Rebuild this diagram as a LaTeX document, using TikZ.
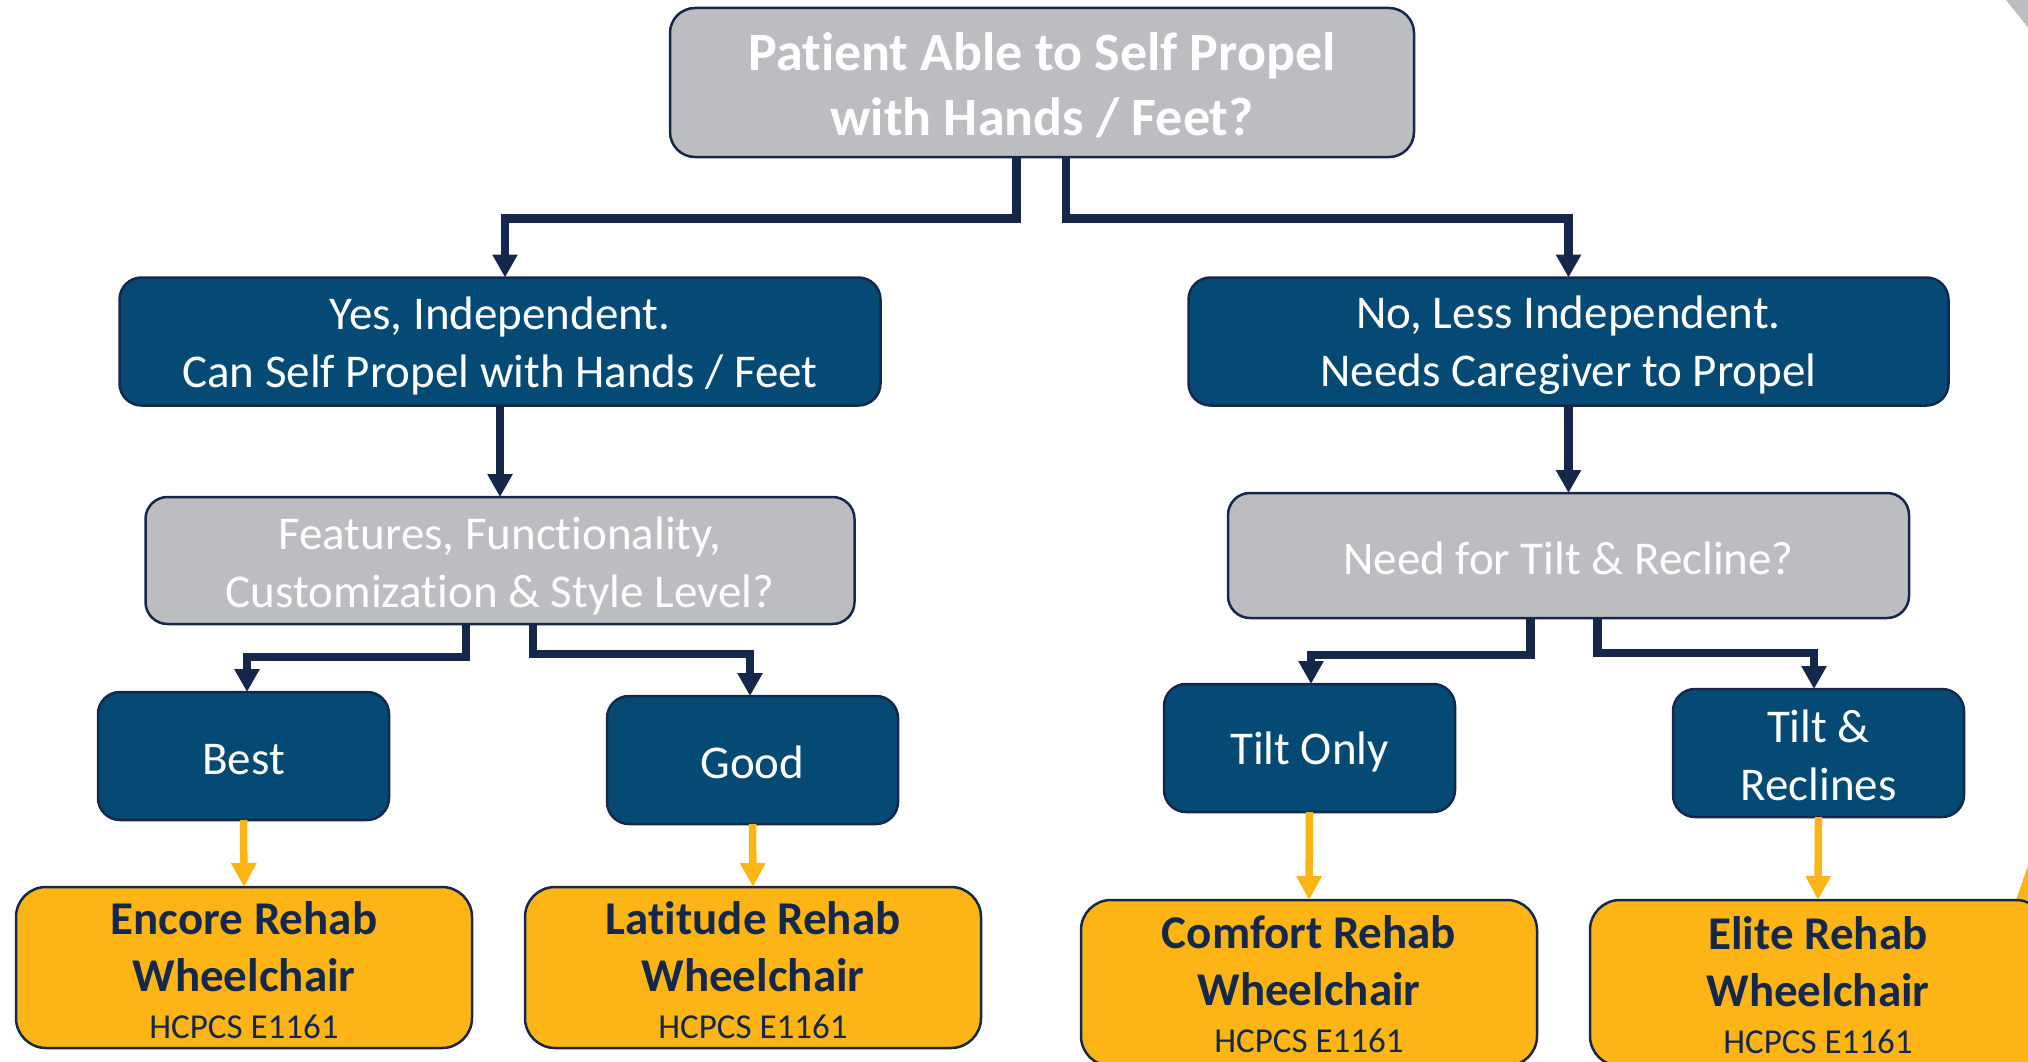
\documentclass[tikz,border=0pt]{standalone}
\usepackage{fontspec}
\setmainfont{Carlito}[Ligatures=NoCommon]
\usetikzlibrary{arrows.meta}
\definecolor{navyfill}{HTML}{044A75}
\definecolor{navyline}{HTML}{15284B}
\definecolor{greyfill}{HTML}{BCBDC0}
\definecolor{gold}{HTML}{FDB515}
\newcommand\liftto[1]{\rule{0pt}{#1}}
\begin{document}
\begin{tikzpicture}[x=1pt,y=-1pt,
  box/.style={draw=navyline, line width=2.5pt, rounded corners=22pt, align=center, inner sep=0pt, outer sep=0pt},
  greybox/.style={box, fill=greyfill, text=white},
  bluebox/.style={box, fill=navyfill, text=white, font=\fontsize{47}{58}\selectfont},
  smallblue/.style={bluebox, minimum width=291pt, minimum height=128pt},
  goldbox/.style={box, fill=gold, text=navyline, rounded corners=30pt, minimum width=456pt, font=\fontsize{47}{57}\selectfont\bfseries},
  conn/.style={draw=navyline, line width=8.5pt, line join=miter, -{Triangle[width=24pt,length=23pt]}},
  gconn/.style={draw=gold, line width=7.5pt, -{Triangle[width=24pt,length=24pt]}},
  deco/.style={fill=greyfill},
  decogold/.style={fill=gold}
]
\path[use as bounding box] (0,0) rectangle (2028,1062);
\clip (0,0) rectangle (2028,1062);

% decorative corner pieces
\fill[deco] (2006,0) -- (2030,0) -- (2030,30) -- cycle;
\fill[decogold] (2030,860) -- (2016,900) -- (2030,900) -- cycle;

% nodes
\node[greybox, minimum width=744pt, minimum height=149pt, rounded corners=25pt,
      font=\fontsize{54}{65}\selectfont\bfseries] (top) at (1042,82.5)
      {\liftto{44pt}Patient Able to Self Propel\\with Hands / Feet?};

\node[bluebox, minimum width=761pt, minimum height=128pt] (yes) at (500,341.5)
      {\liftto{41pt}Yes, Independent.\\Can Self Propel with Hands / Feet};
\node[bluebox, minimum width=760pt, minimum height=128pt] (no) at (1568.5,341.5)
      {\liftto{41pt}No, Less Independent.\\Needs Caregiver to Propel};

\node[greybox, minimum width=709pt, minimum height=127pt,
      font=\fontsize{47}{58}\selectfont] (feat) at (500,560.5)
      {\liftto{43pt}Features, Functionality,\\Customization \& Style Level?};
\node[greybox, minimum width=681pt, minimum height=125pt,
      font=\fontsize{47}{58}\selectfont] (need) at (1568.5,555.5)
      {\liftto{38pt}Need for Tilt \& Recline?};

\node[smallblue] (best) at (243.5,756) {\liftto{37pt}Best};
\node[smallblue] (good) at (752.5,760) {\liftto{37pt}Good};
\node[smallblue] (tilt) at (1309.5,748) {\liftto{40pt}Tilt Only};
\node[smallblue] (tiltrec) at (1818.5,753) {\liftto{38pt}Tilt \&\\Reclines};

\node[goldbox, minimum height=161pt] (encore) at (244,967.5)
      {\liftto{38pt}Encore Rehab\\Wheelchair\\[-10pt]{\normalfont\fontsize{35}{47}\selectfont HCPCS E1161}};
\node[goldbox, minimum height=161pt] (latitude) at (753,967.5)
      {\liftto{38pt}Latitude Rehab\\Wheelchair\\[-10pt]{\normalfont\fontsize{35}{47}\selectfont HCPCS E1161}};
\node[goldbox, minimum height=166pt] (comfort) at (1309,983)
      {\liftto{36pt}Comfort Rehab\\Wheelchair\\[-10pt]{\normalfont\fontsize{35}{47}\selectfont HCPCS E1161}};
\node[goldbox, minimum height=166pt] (elite) at (1818,983)
      {\liftto{37pt}Elite Rehab\\Wheelchair\\[-10pt]{\normalfont\fontsize{35}{47}\selectfont HCPCS E1161}};

% navy connectors
\draw[conn] ([xshift=-25.5pt]top.south) -- ++(0,61.5) -| ([xshift=5pt]yes.north);
\draw[conn] ([xshift=24pt]top.south) -- ++(0,61.5) -| (no.north);
\draw[conn] (yes.south) -- (feat.north);
\draw[conn] (no.south) -- (need.north);
\draw[conn] ([xshift=-34pt]feat.south) -- ++(0,33) -| ([xshift=3.5pt]best.north);
\draw[conn] ([xshift=33pt]feat.south) -- ++(0,30) -| ([xshift=-2.5pt]good.north);
\draw[conn] ([xshift=-38pt]need.south) -- ++(0,37) -| ([xshift=1.5pt]tilt.north);
\draw[conn] ([xshift=29pt]need.south) -- ++(0,35) -| ([xshift=-4.5pt]tiltrec.north);

% gold connectors
\draw[gconn] (best.south) -- (encore.north);
\draw[gconn] (good.south) -- (latitude.north);
\draw[gconn] (tilt.south) -- (comfort.north);
\draw[gconn] (tiltrec.south) -- (elite.north);
\end{tikzpicture}
\end{document}
